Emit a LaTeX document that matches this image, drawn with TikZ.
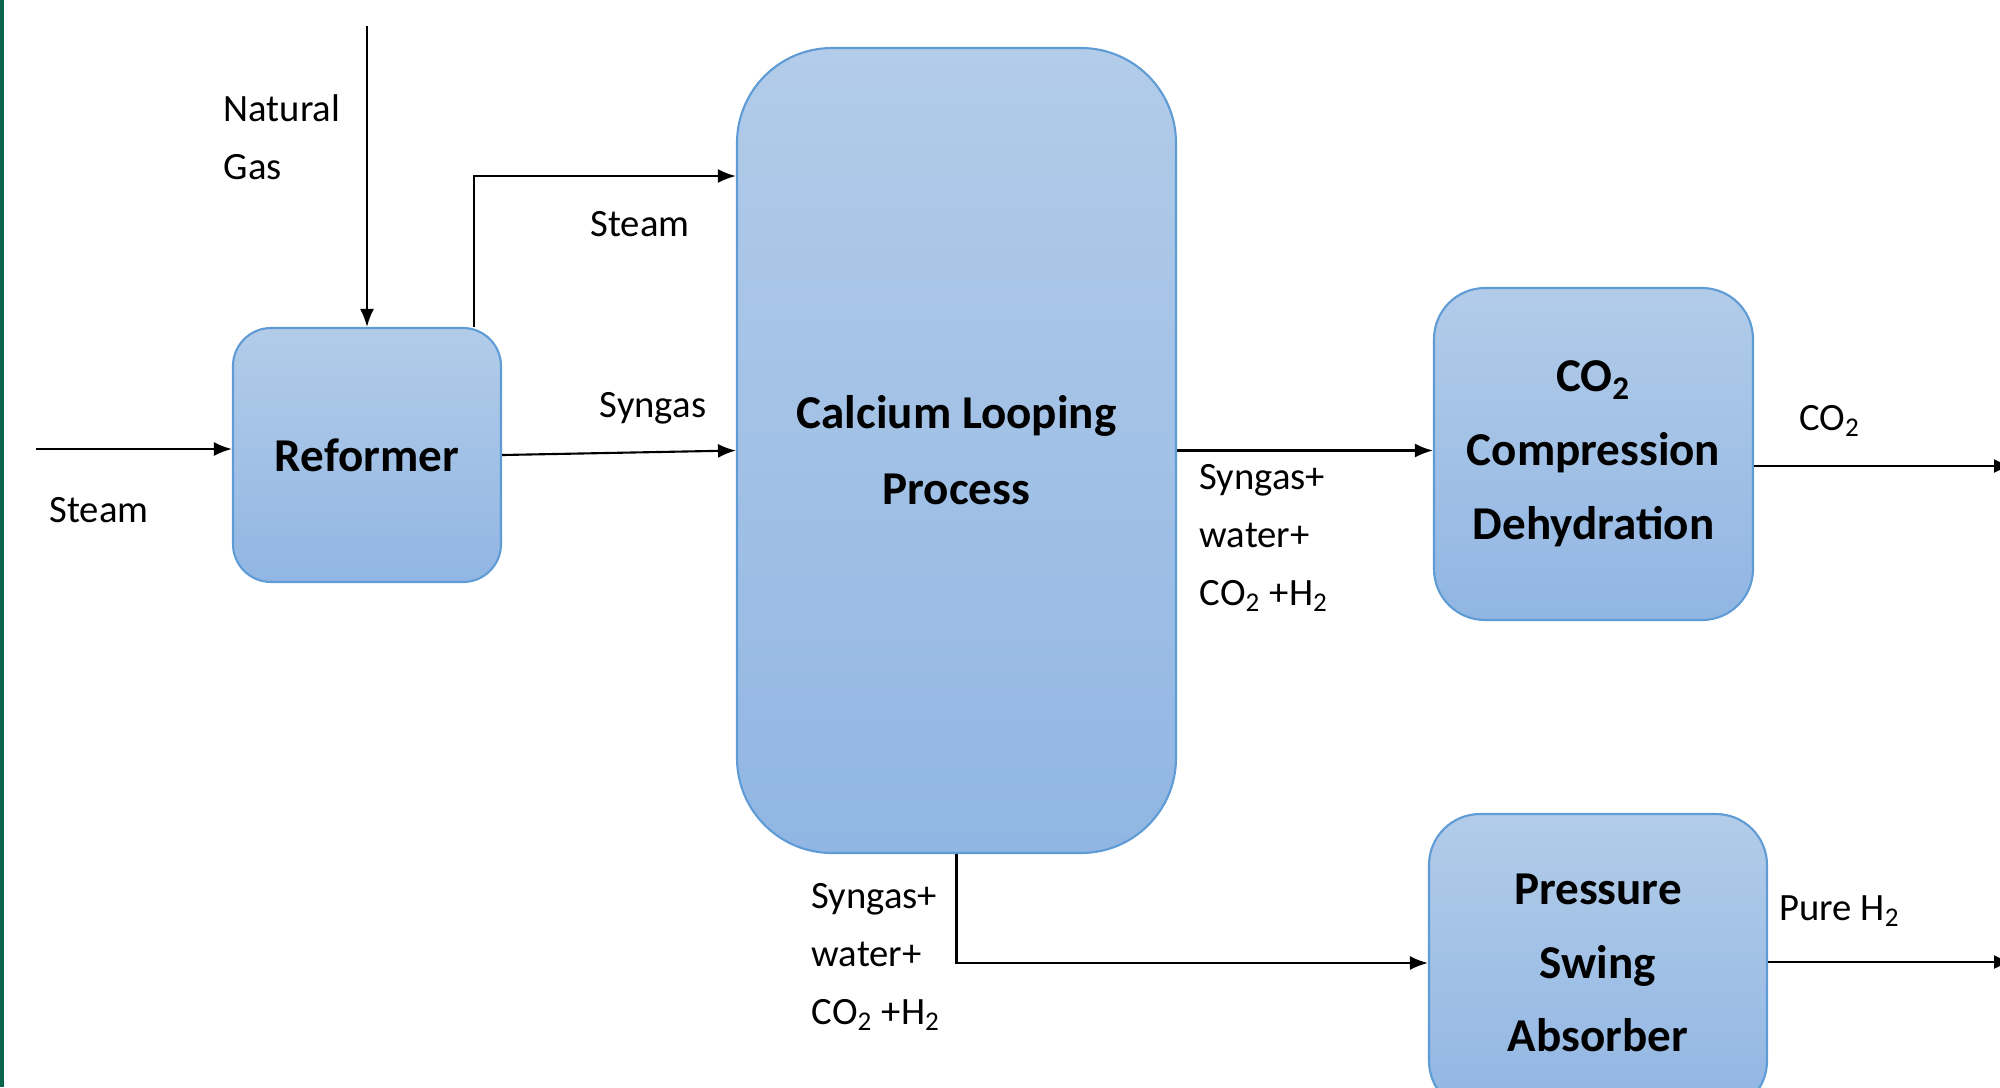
\documentclass[tikz,border=0pt]{standalone}
\usepackage{fontspec}
\setmainfont{Carlito}
\usetikzlibrary{arrows.meta}
\definecolor{edgegreen}{RGB}{10,102,74}
\definecolor{boxtop}{RGB}{178,204,233}
\definecolor{boxbot}{RGB}{145,182,227}
\definecolor{boxline}{RGB}{95,155,213}
\newcommand{\tsub}[1]{\textsubscript{#1}}
\tikzset{
  unit/.style={draw=boxline, line width=0.6pt, top color=boxtop, bottom color=boxbot,
    align=center, font=\fontsize{13.4}{21}\selectfont\bfseries, inner sep=0pt},
  flow/.style={-{Latex[length=1.8mm,width=1.4mm]}, line width=0.6pt},
  lbl/.style={font=\fontsize{11}{16.5}\selectfont, inner sep=0pt, align=left}
}
\begin{document}
\begin{tikzpicture}
  \useasboundingbox (0,0) rectangle (20,-10.87);
  \fill[edgegreen] (0,0) rectangle (0.045,-10.87);

  % process units
  \node[unit, rounded corners=0.38cm, minimum width=2.68cm, minimum height=2.54cm]
    (reformer) at (3.67,-4.55) {Reformer};
  \node[unit, rounded corners=0.95cm, minimum width=4.39cm, minimum height=8.05cm,
    font=\fontsize{13.4}{21.6}\selectfont\bfseries]
    (clp) at (9.565,-4.505) {Calcium Looping\\Process};
  \node[unit, rounded corners=0.51cm, minimum width=3.19cm, minimum height=3.32cm]
    (co2) at (15.935,-4.54) {CO\tsub{2}\\Compression\\Dehydration};
  \node[unit, rounded corners=0.51cm, minimum width=3.38cm, minimum height=2.98cm]
    (psa) at (15.98,-9.63) {Pressure\\Swing\\Absorber};

  % free ends
  \coordinate (steamin) at (0.36,-4.49);
  \coordinate (gasin) at (3.67,-0.26);
  \coordinate (co2out) at (20.12,-4.66);
  \coordinate (h2out) at (20.12,-9.62);

  % streams
  \draw[flow] (steamin) -- (steamin -| reformer.west);
  \draw[flow] (gasin) -- (reformer.north);
  \draw[flow] ([xshift=1.07cm]reformer.north) |- (clp.west |- 0,-1.76);
  \draw[flow] (reformer.east) -- (clp.west);
  \draw[flow] (clp.east) -- (clp.east -| co2.west);
  \draw[flow] (clp.south) |- (psa.west);
  \draw[flow] (co2.east |- co2out) -- (co2out);
  \draw[flow] (psa.east |- h2out) -- (h2out);

  % stream labels
  \node[lbl] (steamlbl) at (0.99,-5.10) {Steam};
  \node[lbl, anchor=west] (gaslbl) at (2.23,-1.37) {Natural\\Gas};
  \node[lbl] (steamlbl2) at (6.40,-2.24) {Steam};
  \node[lbl] (syngaslbl) at (6.53,-4.08) {Syngas};
  \node[lbl, anchor=west] (mixlbl) at (11.99,-5.38) {Syngas+\\water+\\CO\tsub{2} +H\tsub{2}};
  \node[lbl, anchor=west] (mixlbl2) at (8.11,-9.57) {Syngas+\\water+\\CO\tsub{2} +H\tsub{2}};
  \node[lbl] (co2lbl) at (18.30,-4.21) {CO\tsub{2}};
  \node[lbl] (h2lbl) at (18.40,-9.11) {Pure H\tsub{2}};
\end{tikzpicture}
\end{document}
